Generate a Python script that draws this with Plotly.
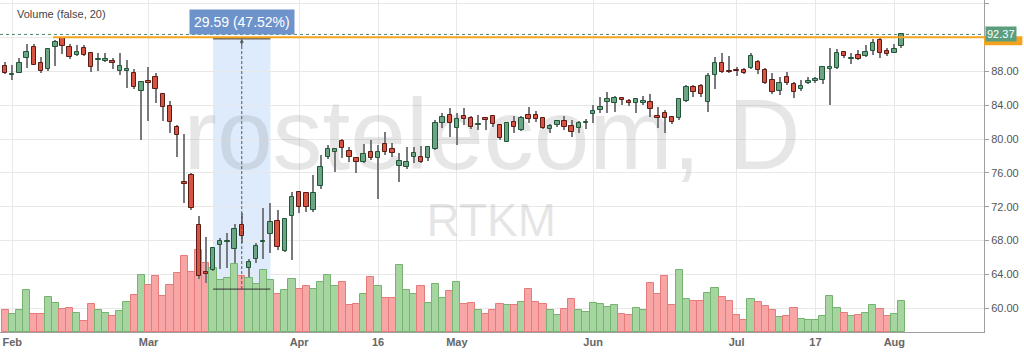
import plotly.graph_objects as go

# ---- data (daily candles, index 0 = last day of January) ----
open_ = [88.64, 87.54, 87.85, 89.59, 90.93, 88.96, 88.33, 90.85, 91.91, 90.93,
         89.94, 90.73, 90.14, 89.38, 89.19, 89.23, 88.01, 88.05, 87.85, 85.73,
         86.83, 87.38, 85.29, 83.91, 81.39, 74.97, 75.76, 69.85, 64.29, 64.53,
         67.49, 67.85, 67.01, 69.85, 64.72, 65.79, 67.88, 68.74, 70.36, 66.82,
         70.95, 73.71, 73.59, 71.62, 74.46, 77.92, 78.51, 79.81, 78.63, 77.77,
         77.33, 78.44, 77.73, 79.38, 78.83, 76.86, 76.74, 77.92, 77.85, 77.73,
         78.83, 81.94, 82.85, 81.27, 82.77, 82.53, 81.65, 82.49, 82.73, 81.63,
         79.66, 81.98, 81.08, 82.81, 82.81, 82.53, 81.16, 81.63, 82.18, 81.55,
         81.35, 81.90, 82.97, 83.44, 84.42, 84.31, 84.86, 84.54, 84.23, 84.27,
         84.42, 82.73, 83.05, 82.57, 82.46, 84.50, 86.12, 86.28, 84.42, 87.58,
         88.96, 87.95, 88.12, 88.17, 88.37, 89.07, 88.17, 86.99, 85.72, 87.30,
         86.51, 85.88, 86.67, 86.87, 86.99, 88.33, 88.37, 90.34, 89.48, 89.94,
         89.86, 90.41, 91.71, 90.45, 90.22, 91.00]
high = [89.15, 88.76, 89.55, 91.24, 91.24, 89.74, 90.73, 91.71, 92.03, 91.24,
        91.12, 91.12, 90.22, 90.14, 90.14, 89.55, 90.22, 89.35, 88.25, 86.80,
        88.56, 87.77, 85.41, 84.54, 81.67, 80.60, 75.95, 70.91, 68.47, 67.29,
        68.27, 68.86, 69.96, 71.22, 65.79, 67.68, 71.82, 72.41, 71.62, 70.70,
        73.79, 73.83, 73.79, 75.76, 78.12, 79.30, 78.91, 79.97, 79.10, 77.92,
        79.42, 79.89, 79.30, 80.88, 79.50, 78.40, 79.03, 79.03, 79.18, 79.18,
        82.26, 83.05, 83.64, 83.05, 83.64, 82.73, 82.85, 82.57, 82.85, 81.75,
        81.90, 82.73, 82.73, 83.83, 83.32, 82.57, 81.75, 82.26, 82.73, 82.26,
        82.18, 82.34, 84.03, 85.02, 85.61, 85.10, 85.02, 84.70, 84.82, 85.14,
        85.30, 83.83, 83.44, 82.73, 84.70, 86.40, 86.40, 86.52, 87.85, 89.66,
        90.22, 89.82, 88.48, 88.37, 90.14, 89.35, 88.37, 87.77, 87.38, 87.97,
        86.79, 86.99, 87.30, 87.38, 88.56, 90.73, 90.61, 90.41, 90.14, 90.53,
        91.12, 91.79, 91.91, 90.73, 91.24, 92.58]
low = [87.75, 86.99, 87.80, 88.44, 88.70, 87.78, 88.09, 88.64, 90.06, 89.51,
       89.82, 89.82, 87.97, 88.09, 89.15, 88.25, 87.58, 86.00, 85.88, 79.90,
       82.18, 84.30, 82.18, 80.76, 77.92, 72.41, 71.62, 63.42, 62.95, 64.40,
       64.60, 64.72, 65.32, 67.68, 63.74, 65.32, 65.79, 66.58, 66.90, 66.70,
       65.71, 71.22, 71.42, 71.42, 74.06, 77.61, 76.15, 77.73, 77.25, 75.95,
       77.14, 77.53, 72.88, 78.12, 77.92, 74.97, 76.43, 77.14, 77.14, 77.45,
       78.71, 81.27, 80.29, 79.30, 81.67, 81.16, 81.08, 81.08, 81.47, 79.90,
       79.60, 80.68, 80.99, 81.86, 82.06, 81.20, 80.68, 81.47, 81.08, 80.21,
       80.68, 81.16, 81.94, 83.05, 83.05, 83.25, 84.03, 83.91, 83.13, 84.03,
       82.65, 81.27, 80.68, 81.79, 82.26, 84.35, 85.02, 85.02, 83.25, 85.88,
       87.77, 87.77, 87.46, 87.65, 88.25, 87.70, 86.52, 85.33, 85.21, 86.40,
       84.82, 85.73, 86.51, 86.67, 86.51, 84.03, 88.25, 89.55, 88.88, 89.35,
       89.74, 89.94, 89.55, 89.82, 90.14, 90.73]
close = [87.85, 87.69, 88.96, 90.26, 88.80, 88.09, 90.61, 91.52, 91.00, 89.74,
         90.33, 89.94, 88.56, 89.42, 89.47, 88.96, 88.64, 88.29, 86.12, 86.79,
         86.59, 85.96, 83.75, 82.06, 80.45, 74.69, 71.82, 63.82, 64.05, 67.09,
         68.00, 67.95, 69.37, 68.55, 65.51, 67.37, 67.92, 70.16, 67.29, 70.60,
         73.12, 72.01, 72.01, 73.67, 76.74, 78.79, 78.83, 78.95, 77.92, 77.33,
         78.20, 77.81, 78.44, 78.51, 78.40, 77.41, 77.30, 78.40, 77.33, 79.03,
         81.86, 82.57, 81.94, 82.34, 82.34, 81.39, 81.69, 82.26, 81.75, 80.09,
         81.86, 81.47, 82.53, 82.41, 82.41, 81.27, 81.55, 82.10, 81.39, 80.88,
         81.86, 82.06, 83.36, 83.83, 84.78, 84.90, 84.62, 84.27, 84.74, 84.54,
         83.56, 82.53, 82.53, 81.98, 84.70, 86.12, 85.53, 85.30, 87.46, 89.03,
         87.97, 87.91, 88.08, 87.85, 89.86, 88.17, 86.67, 85.61, 86.67, 86.67,
         85.61, 86.32, 86.87, 87.07, 88.48, 88.48, 90.22, 89.86, 89.52, 89.47,
         90.26, 91.40, 90.22, 90.06, 90.61, 92.37]
volume = [2.17, 1.77, 2.17, 4.24, 1.84, 1.84, 3.50, 2.90, 2.34, 2.44,
          1.94, 1.07, 2.77, 2.17, 1.94, 1.57, 2.07, 3.00, 3.67, 5.70,
          4.67, 5.64, 3.57, 4.67, 5.90, 7.64, 6.04, 8.24, 6.90, 6.44,
          5.17, 5.44, 6.77, 5.57, 5.44, 4.77, 6.24, 5.17, 3.77, 4.24,
          5.34, 4.34, 4.57, 4.34, 5.00, 5.67, 4.57, 5.00, 2.74, 2.84,
          3.84, 5.50, 4.64, 3.40, 3.40, 6.67, 4.24, 3.84, 4.57, 2.90,
          4.84, 3.44, 4.07, 5.04, 2.84, 2.90, 2.24, 1.77, 2.17, 2.77,
          2.67, 2.67, 3.00, 4.34, 3.00, 2.84, 2.24, 1.74, 2.34, 3.30,
          2.24, 1.97, 2.90, 2.84, 2.50, 2.74, 1.77, 1.67, 2.44, 2.24,
          4.94, 3.84, 5.64, 2.74, 6.24, 3.30, 3.10, 3.10, 3.94, 4.44,
          3.50, 3.10, 1.67, 1.17, 3.30, 3.00, 2.57, 2.17, 1.50, 1.60,
          2.44, 1.34, 1.24, 1.24, 1.57, 3.57, 2.44, 1.94, 1.57, 1.67,
          1.94, 2.74, 2.34, 1.57, 1.77, 3.10]

tick_index = [1, 20, 41, 52, 63, 82, 102, 113, 124]
tick_text = ["Feb", "Mar", "Apr", "16", "May", "Jun", "Jul", "17", "Aug"]
price_ticks = [60, 64, 68, 72, 76, 80, 84, 88, 92, 96]
price_tick_text = ["60.00", "64.00", "68.00", "72.00", "76.00", "80.00",
                   "84.00", "88.00", "", "96.00"]  # 92.00 sits under the price label

measure_start, measure_end = 29, 37
measure_low, measure_high = 62.27, 91.86
level_price = 92.04
last_price = close[-1]

# ---- derived ----
x = list(range(len(close)))
up = [c >= o for o, c in zip(open_, close)]
body_base = [min(o, c) for o, c in zip(open_, close)]
body_h = [max(abs(c - o), 0.08) for o, c in zip(open_, close)]
wick_h = [h - l for h, l in zip(high, low)]

UP_FILL, UP_LINE = "#6ba583", "#225437"
DN_FILL, DN_LINE = "#d75442", "#5b1a13"
VUP_FILL, VUP_LINE = "#a6d5a2", "#74b46f"
VDN_FILL, VDN_LINE = "#f8a5a5", "#e67b7b"
WM = "rgba(140,140,140,0.22)"

fig = go.Figure()

# watermark (below everything)
fig.add_trace(go.Scatter(x=[67.9], y=[18.8], mode="text", text=["rostelecom, D"],
                         textposition="middle center",
                         textfont=dict(size=100, color=WM, family="Liberation Sans, Arial"),
                         yaxis="y", hoverinfo="skip", showlegend=False))
fig.add_trace(go.Scatter(x=[67.8], y=[10.8], mode="text", text=["RTKM"],
                         textposition="middle center",
                         textfont=dict(size=46, color=WM, family="Liberation Sans, Arial"),
                         yaxis="y", hoverinfo="skip", showlegend=False))

# volume
fig.add_trace(go.Bar(x=x, y=volume, width=1.0, yaxis="y",
                     marker=dict(color=[VUP_FILL if u else VDN_FILL for u in up],
                                 line=dict(color=[VUP_LINE if u else VDN_LINE for u in up], width=1)),
                     hoverinfo="skip", showlegend=False))
# wicks
fig.add_trace(go.Bar(x=x, y=wick_h, base=low, width=0.16, yaxis="y2",
                     marker=dict(color="#7a7a7c", line=dict(width=0)),
                     hoverinfo="skip", showlegend=False))
# bodies
fig.add_trace(go.Bar(x=x, y=body_h, base=body_base, width=0.62, yaxis="y2",
                     marker=dict(color=[UP_FILL if u else DN_FILL for u in up],
                                 line=dict(color=[UP_LINE if u else DN_LINE for u in up], width=1)),
                     hoverinfo="skip", showlegend=False))

mid = (measure_start + measure_end) / 2
shapes = [
    dict(type="rect", xref="x", yref="y2", x0=measure_start, x1=measure_end,
         y0=measure_low, y1=measure_high, fillcolor="rgba(175,208,250,0.42)",
         line=dict(width=0), layer="below"),
    dict(type="line", xref="x", yref="y2", x0=measure_start, x1=measure_end,
         y0=measure_high, y1=measure_high, line=dict(color="#666666", width=1.5)),
    dict(type="line", xref="x", yref="y2", x0=measure_start, x1=measure_end,
         y0=measure_low, y1=measure_low, line=dict(color="#333333", width=1)),
    dict(type="line", xref="x", yref="y2", x0=mid, x1=mid, y0=measure_low, y1=measure_high,
         line=dict(color="#555555", width=1, dash="3px,2px")),
    dict(type="line", xref="x", yref="y2", x0=6.7, x1=136.5, y0=level_price, y1=level_price,
         line=dict(color="#f5a31f", width=2)),
    dict(type="line", xref="paper", yref="y2", x0=0, x1=1, y0=last_price, y1=last_price,
         line=dict(color="#4f8a6a", width=1, dash="dot")),
    dict(type="rect", xref="paper", yref="y2", x0=1.0, x1=1.039, y0=91.1, y1=92.15,
         fillcolor="#f5a31f", line=dict(width=0)),
]

annotations = [
    dict(xref="x", yref="y2", x=mid, y=93.84,
         text="%.2f (%.2f%%)" % (measure_high - measure_low,
                                 (measure_high - measure_low) / measure_low * 100),
         showarrow=False, bgcolor="#6e93cb", borderpad=4,
         font=dict(color="white", size=14, family="Liberation Sans, Arial")),
    dict(xref="x", yref="y2", x=mid, y=measure_high,
         text="", showarrow=True, ax=0, ay=9, arrowhead=2, arrowsize=0.8,
         arrowwidth=1, arrowcolor="#555555"),
    dict(xref="paper", yref="y2", x=1.0, y=last_price, xanchor="left", xshift=1,
         text="%.2f" % last_price, showarrow=False, bgcolor="#5b9e7d", borderpad=1,
         font=dict(color="white", size=11, family="Liberation Sans, Arial")),
    dict(xref="paper", yref="paper", x=15 / 984, y=1 - 14 / 332, xanchor="left",
         yanchor="middle", text="Volume (false, 20)", showarrow=False,
         font=dict(color="#444444", size=11, family="Liberation Sans, Arial")),
]

fig.update_layout(
    width=1024, height=352,
    margin=dict(l=0, r=40, t=0, b=20),
    paper_bgcolor="white", plot_bgcolor="white",
    barmode="overlay", bargap=0,
    showlegend=False,
    font=dict(family="Liberation Sans, Arial", size=11, color="#555555"),
    xaxis=dict(range=[-0.71, 136.5], tickmode="array", tickvals=tick_index,
               ticktext=tick_text, showgrid=True, gridcolor="#e8e8e8", gridwidth=1,
               showline=True, linecolor="#a0a0a0", linewidth=1, ticks="",
               tickfont=dict(size=11, color="#666666", weight="bold"),
               zeroline=False, fixedrange=True),
    yaxis=dict(range=[0, 33.2], visible=False, showgrid=False, zeroline=False),
    yaxis2=dict(overlaying="y", side="right", range=[57.2, 96.44],
                tickmode="array", tickvals=price_ticks, ticktext=price_tick_text,
                showgrid=True, gridcolor="#e8e8e8", gridwidth=1,
                showline=True, linecolor="#a0a0a0", linewidth=1,
                ticks="outside", ticklen=4, tickcolor="#a0a0a0",
                tickfont=dict(size=11, color="#555555"), zeroline=False),
    shapes=shapes,
    annotations=annotations,
)

fig.write_html("out.html")
